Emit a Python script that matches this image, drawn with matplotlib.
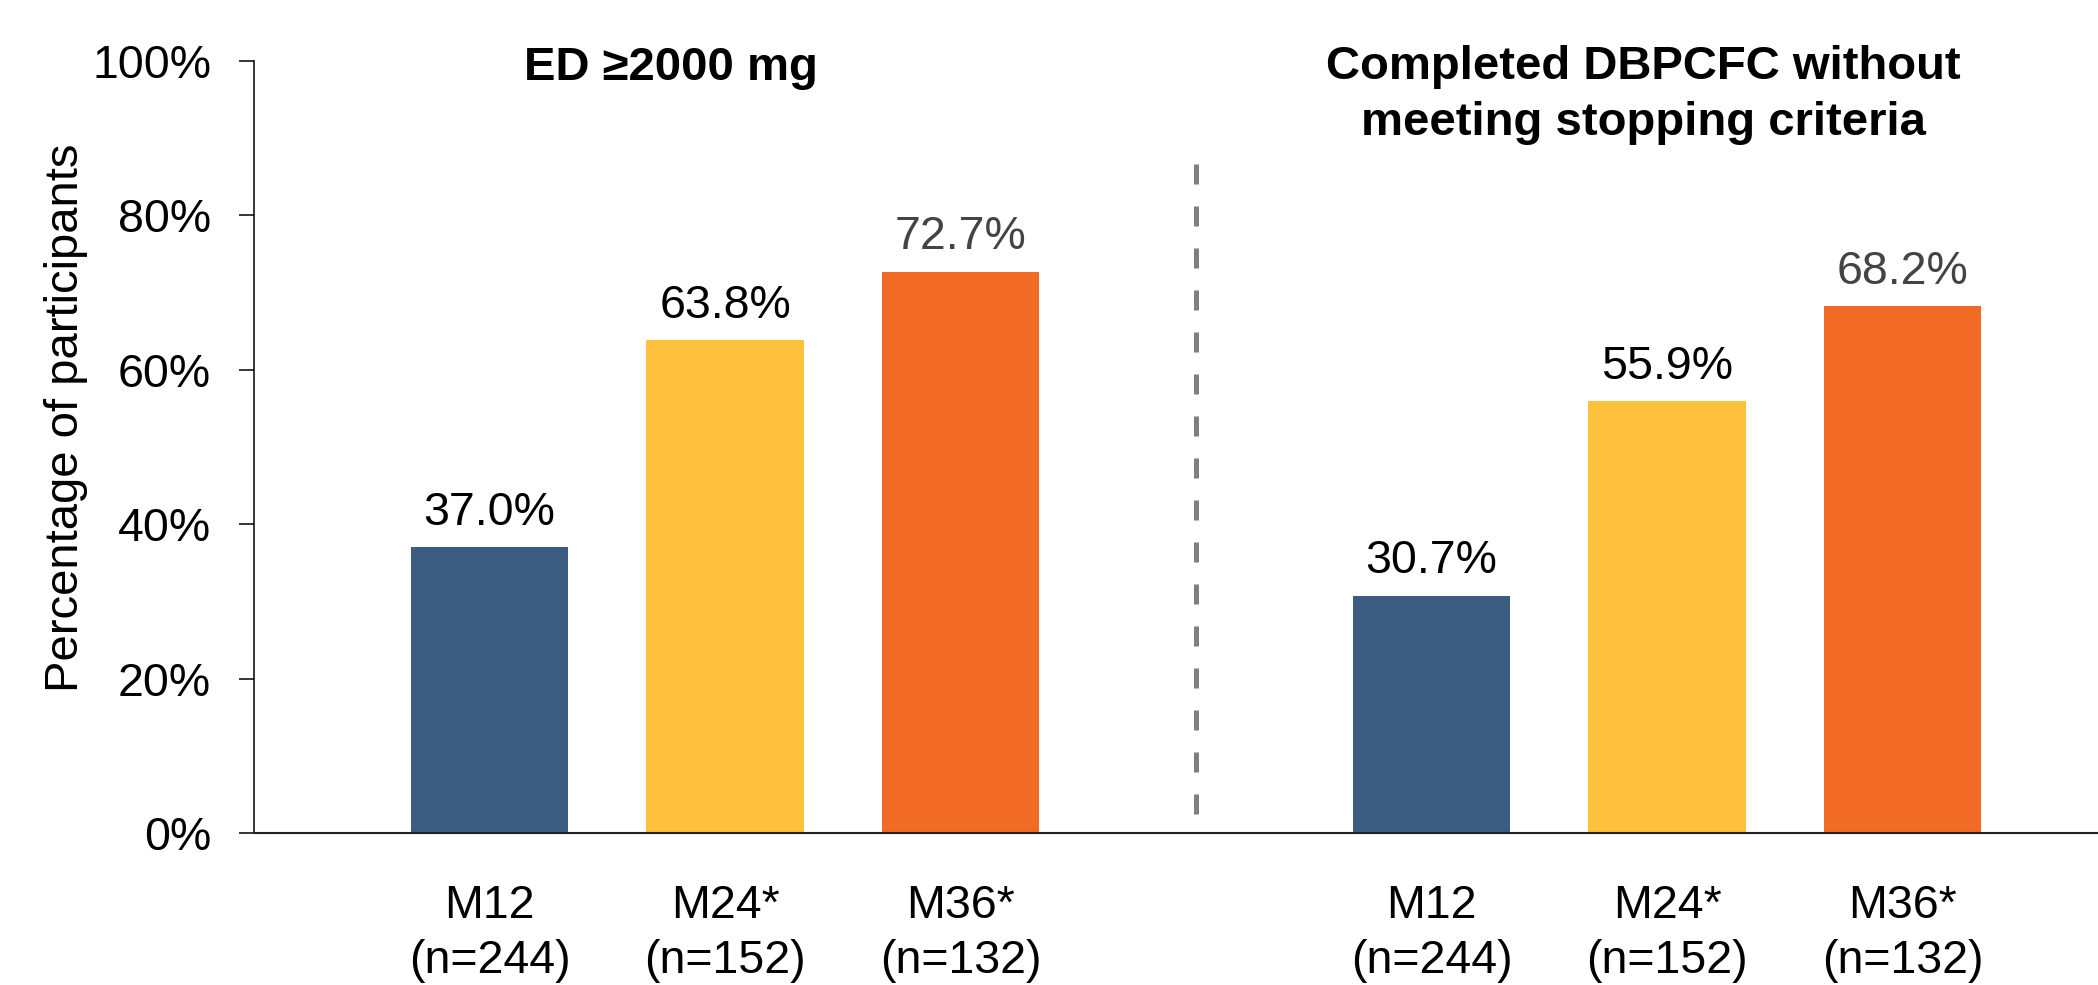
import numpy as np
import matplotlib
matplotlib.use("Agg")
import matplotlib.pyplot as plt

plt.rcParams['font.family'] = ['Liberation Sans', 'DejaVu Sans']

# data
timepoints = ["M12", "M24*", "M36*"]
n_labels = ["(n=244)", "(n=152)", "(n=132)"]
ed_2000 = [37.0, 63.8, 72.7]
completed_dbpcfc = [30.7, 55.9, 68.2]
panel_titles = ["ED \u22652000 mg", "Completed DBPCFC without\nmeeting stopping criteria"]
ylabel = "Percentage of participants"

colors = ["#3D5C82", "#FDC13E", "#F26B26"]
label_colors = ["black", "black", "#444444"]

fig = plt.figure(figsize=(20.98, 9.85), dpi=100)
ax = fig.add_axes([254 / 2098, 152 / 985, 1 - 254 / 2098, (833 - 61) / 985])

pos_left = np.arange(3)
pos_right = np.arange(3) + 4
bar_width = 0.667

for pos, vals in [(pos_left, ed_2000), (pos_right, completed_dbpcfc)]:
    ax.bar(pos, vals, bar_width, color=colors, zorder=2)
    for x, v, lc in zip(pos, vals, label_colors):
        ax.annotate("%.1f%%" % v, xy=(x, v), xytext=(0, 9), textcoords="offset points",
                    ha="center", va="bottom", fontsize=33.5, color=lc)

# separator
ax.plot([3, 3], [2.5, 87], color="#7F7F7F", lw=3.6, ls=(0, (4, 4.4)),
        solid_capstyle="butt", dash_capstyle="butt", zorder=1)

# panel titles (baseline of last line)
ax.text(0.77, 97.5, panel_titles[0], ha="center", va="baseline",
        fontsize=34, fontweight="bold", clip_on=False)
ax.text(4.90, 90.4, panel_titles[1], ha="center", va="baseline",
        fontsize=34, fontweight="bold", linespacing=1.35, clip_on=False)

ax.set_xlim(-1.0, 6.83)
ax.set_ylim(0, 100)
ax.set_yticks(np.arange(0, 101, 20))
ax.set_yticklabels(["%d%%" % t for t in range(0, 101, 20)])
ax.set_xticks(list(pos_left) + list(pos_right))
ax.set_xticklabels([a + "\n" + b for a, b in zip(timepoints, n_labels)] * 2,
                   linespacing=1.3)

ax.tick_params(axis="y", length=10.8, width=1.1, pad=20, labelsize=33.5)
ax.tick_params(axis="x", length=0, pad=37, labelsize=33.5)

for s in ["top", "right"]:
    ax.spines[s].set_visible(False)
ax.spines["left"].set_linewidth(1.1)
ax.spines["bottom"].set_linewidth(1.5)
ax.spines["bottom"].set_color("#222222")

fig.text(66 / 2098, 1 - 418 / 985, ylabel, rotation=90, ha="center", va="center",
         fontsize=34)

fig.savefig("out.png", dpi=100)
